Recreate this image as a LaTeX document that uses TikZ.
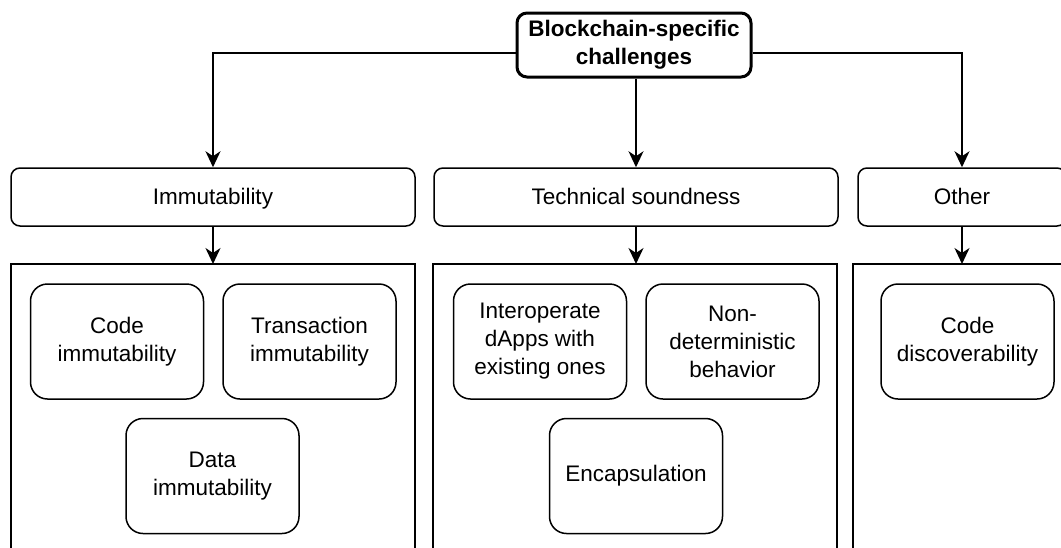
\documentclass[tikz,border=0pt]{standalone}
\usepackage{fontspec}
\setmainfont{Liberation Sans}
\usetikzlibrary{arrows.meta}
\begin{document}
\begin{tikzpicture}[x=1pt,y=-1pt,
  txt/.style={font=\fontsize{22.5}{28}\selectfont, align=center},
  topbox/.style={txt, draw, line width=3pt, rounded corners=10pt, minimum width=234pt, minimum height=64pt, inner sep=0pt, font=\fontsize{22.5}{28}\selectfont\bfseries},
  catbox/.style={txt, draw, line width=1.5pt, rounded corners=9pt, minimum height=58pt, inner sep=0pt, text height=16pt, text depth=2pt},
  itembox/.style={txt, draw, line width=1.5pt, rounded corners=17pt, minimum width=173pt, minimum height=115pt, inner sep=0pt},
  cont/.style={draw, line width=1.5pt},
  arr/.style={line width=2pt, -{Stealth[length=16pt,width=15pt,inset=5pt]}}]
\useasboundingbox (0,0) rectangle (1061,547);
\clip (0,0) rectangle (1061,547);
% containers
\draw[cont] (11,640) -- (11,264) -- (415,264) -- (415,640);
\draw[cont] (433,640) -- (433,264) -- (837,264) -- (837,640);
\draw[cont] (853,640) -- (853,264) -- (1090,264);
\coordinate (c1) at (213,264);
\coordinate (c2) at (636,264);
\coordinate (c3) at (962,264);
% top
\node[topbox] (top) at (634,45) {Blockchain-specific\\challenges};
% categories
\node[catbox, minimum width=404pt] (imm) at (213,197) {Immutability};
\node[catbox, minimum width=404pt] (tech) at (636,197) {Technical soundness};
\node[catbox, minimum width=208pt] (other) at (962,197) {Other};
% items
\node[itembox] (code) at (117,341.5) {Code\\immutability};
\node[itembox] (trans) at (309.5,341.5) {Transaction\\immutability};
\node[itembox] (data) at (212.5,476) {Data\\immutability};
\node[itembox] (inter) at (540,341.5) {Interoperate\\dApps with\\existing ones};
\node[itembox] (nondet) at (732.5,341.5) {Non-\\deterministic\\behavior};
\node[itembox] (encap) at (636,476) {Encapsulation};
\node[itembox] (disc) at (967.5,341.5) {Code\\discoverability};
% connectors
\draw[arr] ([yshift=-8pt]top.west) -| (imm.north);
\draw[arr] ([yshift=-8pt]top.east) -| (other.north);
\draw[arr] (tech.north |- top.south) -- (tech.north);
\draw[arr] (imm.south) -- (c1);
\draw[arr] (tech.south) -- (c2);
\draw[arr] (other.south) -- (c3);
\end{tikzpicture}
\end{document}
